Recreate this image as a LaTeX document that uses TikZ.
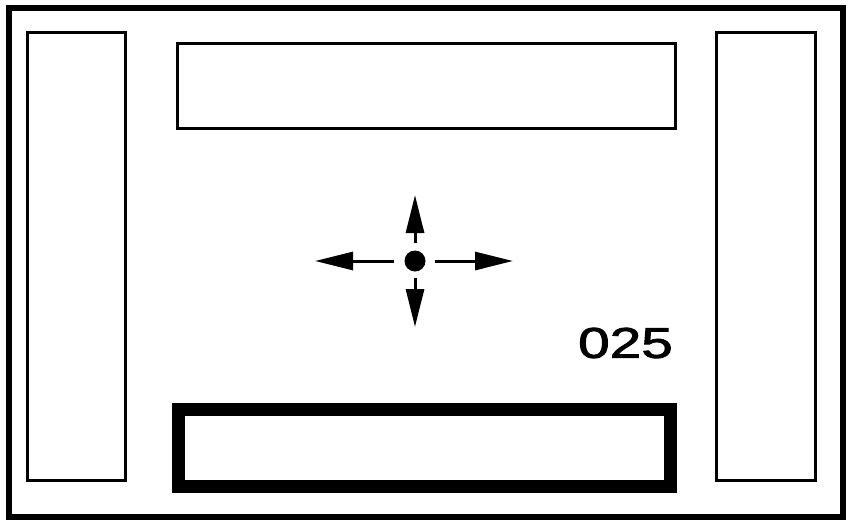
\documentclass[tikz,border=0pt]{standalone}
\usepackage{fontspec}
\setmainfont{Liberation Sans}
\newfontfamily\numfont[FakeBold=1.8]{Liberation Sans}
\usetikzlibrary{arrows.meta}
\begin{document}
\begin{tikzpicture}[x=1pt,y=-1pt,
  frame/.style={draw, line width=6pt, inner sep=0pt, outer sep=0pt},
  panel/.style={draw, line width=3pt, inner sep=0pt, outer sep=0pt},
  thickpanel/.style={draw, line width=13pt, inner sep=0pt, outer sep=0pt},
  dir/.style={line width=3pt, -{Triangle[length=38pt,width=18pt]}},
  label/.style={inner sep=0pt, font=\fontsize{43}{43}\numfont}]
\useasboundingbox[fill=white] (0,0) rectangle (850,525);
\node[frame, minimum width=834pt, minimum height=509pt] (outer) at (426,262.5) {};
\node[panel, minimum width=98pt, minimum height=447.5pt] (left) at (76.5,256.25) {};
\node[panel, minimum width=99pt, minimum height=447.5pt] (right) at (766,256.25) {};
\node[panel, minimum width=497.5pt, minimum height=85pt] (top) at (426.25,86) {};
\node[thickpanel, minimum width=492pt, minimum height=77pt] (bottom) at (424.5,447.5) {};
\node[circle, fill=black, minimum size=21pt, inner sep=0pt] (dot) at (415,261) {};
\coordinate (upend) at (415,195);
\coordinate (downend) at (415,327);
\coordinate (leftend) at (315,261);
\coordinate (rightend) at (513,261);
\draw[dir] ([yshift=18pt]dot.center) -- (upend);
\draw[dir] ([yshift=-17pt]dot.center) -- (downend);
\draw[dir] ([xshift=-21pt]dot.center) -- (leftend);
\draw[dir] ([xshift=20pt]dot.center) -- (rightend);
\node[label] (num) at (625.5,343) {\scalebox{1.32}[1]{025}};
\end{tikzpicture}
\end{document}
